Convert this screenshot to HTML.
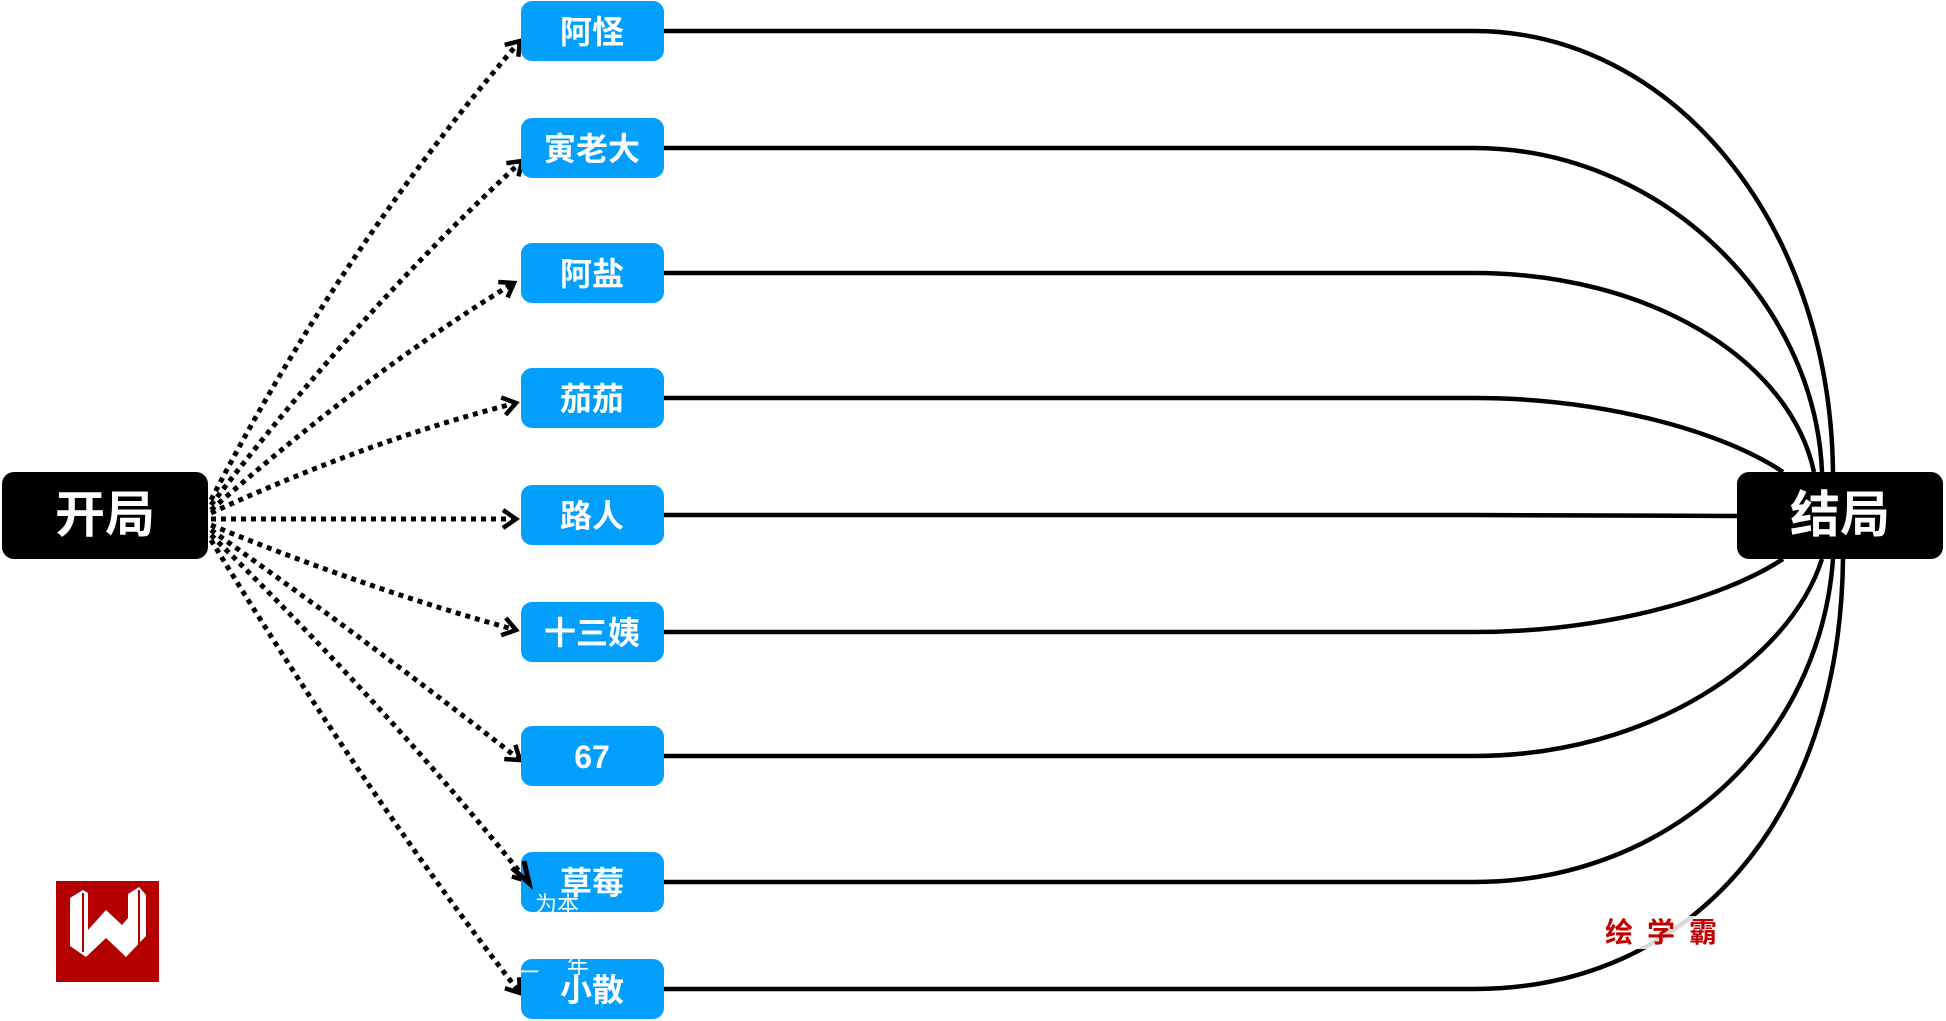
<!DOCTYPE html>
<html><head><meta charset="utf-8"><style>
html,body{margin:0;padding:0;background:#fff;}
svg{display:block;}
text{font-family:"Liberation Sans","Noto Sans CJK SC",sans-serif;}
</style></head><body>
<svg width="1946" height="1021" viewBox="0 0 1946 1021" xmlns="http://www.w3.org/2000/svg">
<defs>
<marker id="ah" markerWidth="22" markerHeight="22" refX="16" refY="11" orient="auto" markerUnits="userSpaceOnUse">
<path d="M3,2 L16,11 L3,20" fill="none" stroke="#000" stroke-width="4.5"/>
</marker>
</defs>
<g fill="none" stroke="#000" stroke-width="4.5">
<path d="M664,31 H1474 C1670,31 1830,220 1833,472"/>
<path d="M664,148 H1474 C1660,148 1815,300 1822,472"/>
<path d="M664,273 H1474 C1650,273 1790,360 1814,472"/>
<path d="M664,398 H1474 C1600,398 1720,430 1783,472"/>
<path d="M664,515 H1474 L1737,516"/>
<path d="M664,632 H1474 C1600,632 1720,600 1783,559"/>
<path d="M664,756 H1474 C1650,756 1790,660 1822,559"/>
<path d="M664,882 H1474 C1670,882 1820,740 1833,559"/>
<path d="M664,989 H1474 C1690,989 1840,820 1843,559"/>
</g>
<g fill="none" stroke="#000" stroke-width="5" stroke-dasharray="5,5" marker-end="url(#ah)">
<path d="M211,500 Q340,250 520,41"/>
<path d="M211,505 Q360,310 522,161"/>
<path d="M211,510 Q370,370 514,283"/>
<path d="M211,513 Q370,440 516,403"/>
<path d="M211,519 L516,519"/>
<path d="M211,525 Q370,590 516,630"/>
<path d="M211,530 Q380,650 520,760"/>
<path d="M211,535 Q390,710 527,881"/>
<path d="M211,540 Q370,800 520,993"/>
</g>
<rect x="2" y="472" width="206" height="87" rx="12" fill="#000"/>
<text x="105" y="532" font-size="50" font-weight="bold" fill="#fff" text-anchor="middle">开局</text>
<rect x="1737" y="472" width="206" height="87" rx="12" fill="#000"/>
<text x="1840" y="532" font-size="50" font-weight="bold" fill="#fff" text-anchor="middle">结局</text>
<g fill="#039ffd">
<rect x="521" y="1" width="143" height="60" rx="11"/>
<rect x="521" y="118" width="143" height="60" rx="11"/>
<rect x="521" y="243" width="143" height="60" rx="11"/>
<rect x="521" y="368" width="143" height="60" rx="11"/>
<rect x="521" y="485" width="143" height="60" rx="11"/>
<rect x="521" y="602" width="143" height="60" rx="11"/>
<rect x="521" y="726" width="143" height="60" rx="11"/>
<rect x="521" y="852" width="143" height="60" rx="11"/>
<rect x="521" y="959" width="143" height="60" rx="11"/>
</g>
<g fill="none" stroke="#000" stroke-width="5">
<path d="M512,868 L529,883 L524,861"/>
</g>
<g fill="#fff" font-size="32" font-weight="bold" text-anchor="middle">
<text x="592" y="43">阿怪</text>
<text x="592" y="160">寅老大</text>
<text x="592" y="285">阿盐</text>
<text x="592" y="410">茄茄</text>
<text x="592" y="527">路人</text>
<text x="592" y="644">十三姨</text>
<text x="592" y="768">67</text>
<text x="592" y="894">草莓</text>
<text x="592" y="1001">小散</text>
</g>
<g fill="#fff" font-size="22">
<text x="535" y="912">为本</text>
<text x="567" y="973">年</text>
<text x="517" y="980">一</text>
</g>
<rect x="1458" y="916" width="430" height="33" fill="#fff" opacity="0.85"/>
<text x="1668" y="942" font-size="28" font-weight="bold" fill="#c00000" text-anchor="middle" letter-spacing="14">绘学霸</text>
<rect x="56" y="881" width="103" height="101" fill="#b50000"/>
<path d="M70,898 L83,890 L88,893 L88,930 L106,910 L122,925 L128,918 L128,894 L139,887 L146,895 L146,936 L126,957 L106,938 L86,957 L70,946 Z" fill="#fff"/>
<path d="M83,893 L83,952 M139,890 L139,945" stroke="#b50000" stroke-width="2"/>
</svg>
</body></html>
